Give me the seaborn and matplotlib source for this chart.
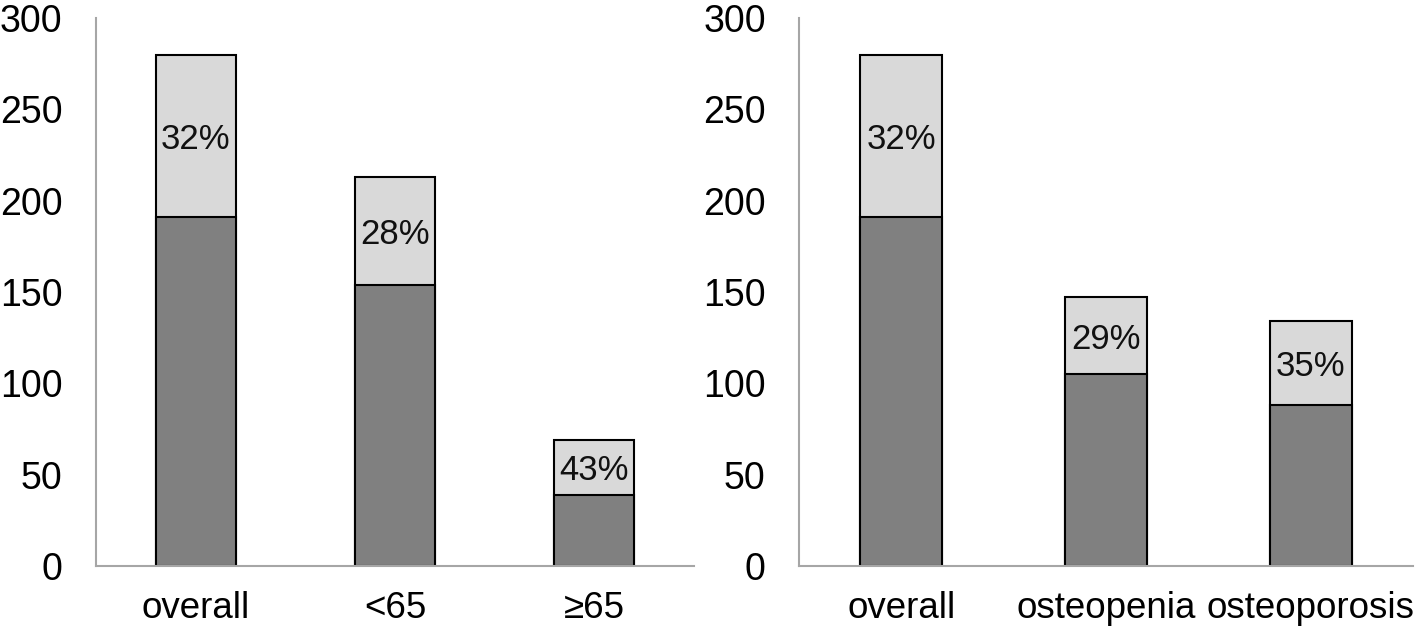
import matplotlib.pyplot as plt
import numpy as np
import pandas as pd
import seaborn as sns

sns.set_theme(style='white')
plt.rcParams['font.family'] = ['Liberation Sans', 'DejaVu Sans']

# left panel: age groups
age_groups = ['overall', '<65', '≥65']
age_total = [280, 213, 69]
age_lower = [191, 154, 39]
age_pct = ['32%', '28%', '43%']

# right panel: bone density
bmd_groups = ['overall', 'osteopenia', 'osteoporosis']
bmd_total = [280, 147, 134]
bmd_lower = [191, 105, 88]
bmd_pct = ['32%', '29%', '35%']

dark = '#808080'
light = '#d9d9d9'
axis_grey = '#a6a6a6'


def stacked_panel(ax, groups, total, lower, pct):
    df = pd.DataFrame({'group': groups, 'total': total, 'lower': lower})
    sns.barplot(data=df, x='group', y='total', color=light, width=0.4,
                edgecolor='black', linewidth=1.5, saturation=1, ax=ax)
    sns.barplot(data=df, x='group', y='lower', color=dark, width=0.4,
                edgecolor='black', linewidth=1.5, saturation=1, ax=ax)
    for i, (t, l, p) in enumerate(zip(total, lower, pct)):
        ax.text(i, (t + l) / 2 - 2, p, ha='center', va='center', fontsize=25, color='#111111')

    ax.set_xlim(-0.5, len(groups) - 0.5)
    ax.set_ylim(0, 300)
    ax.set_yticks(np.arange(0, 301, 50))
    ax.set_xlabel('')
    ax.set_ylabel('')
    for side in ['top', 'right']:
        ax.spines[side].set_visible(False)
    for side in ['left', 'bottom']:
        ax.spines[side].set_color(axis_grey)
        ax.spines[side].set_linewidth(1.5)
    ax.tick_params(axis='y', length=0, pad=24, labelsize=27, labelcolor='black')
    ax.tick_params(axis='x', which='major', length=0, pad=18, labelsize=26.5, labelcolor='black')
    ax.set_xticks(np.arange(-0.5, len(groups), 1.0), minor=True)
    ax.tick_params(axis='x', which='minor', length=8, width=1.5, color=axis_grey, direction='out')


fig = plt.figure(figsize=(14.18, 6.29), dpi=100)
ax1 = fig.add_axes([0.0677, 0.1002, 0.4217, 0.8712])
ax2 = fig.add_axes([0.5635, 0.1002, 0.4330, 0.8712])

stacked_panel(ax1, age_groups, age_total, age_lower, age_pct)
stacked_panel(ax2, bmd_groups, bmd_total, bmd_lower, bmd_pct)

fig.savefig('out.png', dpi=100)
